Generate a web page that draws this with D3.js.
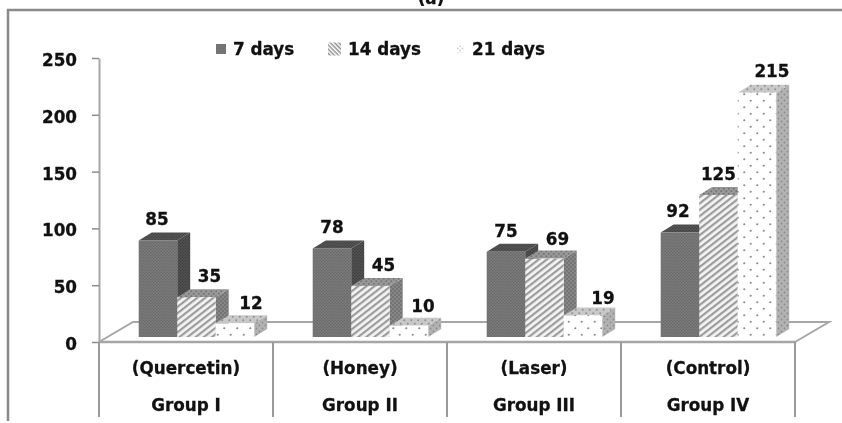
<!DOCTYPE html>
<html>
<head>
<meta charset="utf-8">
<style>
  html, body { margin: 0; padding: 0; background: #fff; overflow: hidden; }
  svg { filter: blur(0.35px); }
  text { font-family: "DejaVu Sans", sans-serif; font-weight: bold; fill: #111; stroke: #111; stroke-width: 0.3px; }
</style>
<script src="https://cdn.jsdelivr.net/npm/d3@7"></script>
</head>
<body>
<svg id="root" width="842" height="423"></svg>
<script>
const groups = ['Group I', 'Group II', 'Group III', 'Group IV']
const treatments = ['(Quercetin)', '(Honey)', '(Laser)', '(Control)']
const seriesNames = ['7 days', '14 days', '21 days']
const days7 = [85, 78, 75, 92]
const days14 = [35, 45, 69, 125]
const days21 = [12, 10, 19, 215]
const yTicks = [0, 50, 100, 150, 200, 250]

const root = d3.select('#root')
const defs = root.append('defs')

// fake 3d offsets, same as the excel chart
const depthX = 13
const depthY = 8
const floorLift = 5
const floorX = 34
const floorY = 20
const fontSize = 16.8

const x0 = d3.scaleBand().domain(groups).range([99, 795])
const x1 = d3.scaleBand().domain(seriesNames).range([39.7, 155.2])
const y = d3.scaleLinear().domain([0, 250]).range([342, 58])

function dots (id, bg, fg, size, r) {
  const p = defs.append('pattern').attr('id', id)
    .attr('width', size).attr('height', size)
    .attr('patternUnits', 'userSpaceOnUse')
  p.append('rect').attr('width', size).attr('height', size).attr('fill', bg)
  p.append('circle').attr('cx', size / 4).attr('cy', size / 4).attr('r', r).attr('fill', fg)
  p.append('circle').attr('cx', size * 3 / 4).attr('cy', size * 3 / 4).attr('r', r).attr('fill', fg)
}

function hatch (id, bg, fg, size, w, angle) {
  const p = defs.append('pattern').attr('id', id)
    .attr('width', size).attr('height', size)
    .attr('patternUnits', 'userSpaceOnUse')
    .attr('patternTransform', `rotate(${angle})`)
  p.append('rect').attr('width', size).attr('height', size).attr('fill', bg)
  p.append('rect').attr('width', size).attr('height', w).attr('fill', fg)
}

dots('front7', '#7b7b7b', '#686868', 3, 0.8)
dots('top7', '#565656', '#424242', 3, 0.8)
dots('side7', '#525252', '#3e3e3e', 3, 0.8)
hatch('front14', '#f4f4f4', '#9c9c9c', 5, 2.2, -38)
dots('top14', '#989898', '#747474', 5, 1)
dots('side14', '#868686', '#6c6c6c', 4, 0.9)
dots('front21', '#fff', '#8c8c8c', 13, 1.1)
dots('top21', '#c8c8c8', '#909090', 7, 1)
dots('side21', '#b2b2b2', '#8c8c8c', 6, 0.9)
// the legend keys use their own finer fills
hatch('key14', '#fff', '#8c8c8c', 3, 1.4, 45)
dots('key21', '#fff', '#999', 4.5, 0.7)

const series = [
  { name: seriesNames[0], key: '7', legend: 'front7', values: days7 },
  { name: seriesNames[1], key: '14', legend: 'key14', values: days14 },
  { name: seriesNames[2], key: '21', legend: 'key21', values: days21 }
]

// chart frame, right and bottom are cut off in the picture
root.append('path')
  .attr('d', 'M842,10H8V421')
  .attr('fill', 'none')
  .attr('stroke', '#8a8a8a')
  .attr('stroke-width', 2.5)

root.append('text')
  .attr('x', 431).attr('y', 4)
  .attr('text-anchor', 'middle')
  .attr('font-size', fontSize)
  .text('(a)')

// floor
const lineColor = '#a6a6a6'
const xL = x0.range()[0]
const xR = x0.range()[1]
root.append('path')
  .attr('d', `M${xL},${y(0)}L${xL + floorX},${y(0) - floorY}H${xR + floorX}L${xR},${y(0)}`)
  .attr('fill', 'none')
  .attr('stroke', lineColor)
  .attr('stroke-width', 2)

// y axis
const yAxis = root.append('g')
  .attr('transform', `translate(${xL},0)`)
  .call(d3.axisLeft(y).tickValues(yTicks).tickSize(7).tickPadding(15).tickSizeOuter(0))
yAxis.select('.domain').attr('stroke', lineColor).attr('stroke-width', 2)
yAxis.selectAll('line').attr('stroke', '#8c8c8c').attr('stroke-width', 1.5)
yAxis.selectAll('text')
  .attr('dy', '.45em')
  .attr('font-size', fontSize)
  .attr('font-family', '"DejaVu Sans", sans-serif')
  .attr('font-weight', 'bold')

// category separators and labels
root.append('line')
  .attr('x1', xL).attr('x2', xR).attr('y1', y(0)).attr('y2', y(0))
  .attr('stroke', lineColor).attr('stroke-width', 2.5)

root.selectAll('.sep')
  .data(groups.concat(['end']))
  .enter().append('line')
  .attr('class', 'sep')
  .attr('x1', (d, i) => xL + i * x0.bandwidth())
  .attr('x2', (d, i) => xL + i * x0.bandwidth())
  .attr('y1', y(0)).attr('y2', 417)
  .attr('stroke', '#9a9a9a').attr('stroke-width', 2)

root.selectAll('.treat')
  .data(treatments)
  .enter().append('text')
  .attr('class', 'treat')
  .attr('x', (d, i) => x0(groups[i]) + x0.bandwidth() / 2)
  .attr('y', 374)
  .attr('text-anchor', 'middle')
  .attr('font-size', fontSize)
  .text(d => d)

root.selectAll('.group')
  .data(groups)
  .enter().append('text')
  .attr('class', 'group')
  .attr('x', d => x0(d) + x0.bandwidth() / 2)
  .attr('y', 411)
  .attr('text-anchor', 'middle')
  .attr('font-size', fontSize)
  .text(d => d)

// bars, drawn left to right so the sides overlap like the original
groups.forEach((g, gi) => {
  series.forEach((s, si) => {
    const v = s.values[gi]
    const bx = x0(g) + x1(s.name)
    const bw = x1.bandwidth()
    const top = y(v) - floorLift
    const base = y(0) - floorLift
    const bar = root.append('g').attr('class', 'bar')

    bar.append('path')
      .attr('d', `M${bx + bw},${top}l${depthX},${-depthY}V${base - depthY}L${bx + bw},${base}Z`)
      .attr('fill', `url(#side${s.key})`)
    bar.append('path')
      .attr('d', `M${bx},${top}l${depthX},${-depthY}h${bw}l${-depthX},${depthY}Z`)
      .attr('fill', `url(#top${s.key})`)
    bar.append('rect')
      .attr('x', bx).attr('y', top)
      .attr('width', bw).attr('height', base - top)
      .attr('fill', `url(#front${s.key})`)
  })
})

// labels go on top of everything, nudged by hand as they were in the original
const labelShift = [[-1, 13, 16], [0, 13, 14], [0, 13, 20], [-2, 0, 15]]
const labelLift = [[7, 7, 6.5], [7, 7, 6], [7, 6, 3.5], [7.5, 7, 8]]
groups.forEach((g, gi) => {
  series.forEach((s, si) => {
    const v = s.values[gi]
    root.append('text')
      .attr('x', x0(g) + x1(s.name) + x1.bandwidth() / 2 + labelShift[gi][si])
      .attr('y', y(v) - floorLift - depthY - labelLift[gi][si])
      .attr('text-anchor', 'middle')
      .attr('font-size', fontSize)
      .text(v)
  })
})

// legend
const legendSwatch = [216, 328, 457]
const legendText = [233, 348, 472]
const legendSize = [10, 13, 7]
series.forEach((s, i) => {
  root.append('rect')
    .attr('x', legendSwatch[i])
    .attr('y', 49 - legendSize[i] / 2)
    .attr('width', legendSize[i])
    .attr('height', legendSize[i])
    .attr('fill', `url(#${s.legend})`)
  root.append('text')
    .attr('x', legendText[i]).attr('y', 55)
    .attr('font-size', fontSize)
    .text(s.name)
})
</script>
</body>
</html>
